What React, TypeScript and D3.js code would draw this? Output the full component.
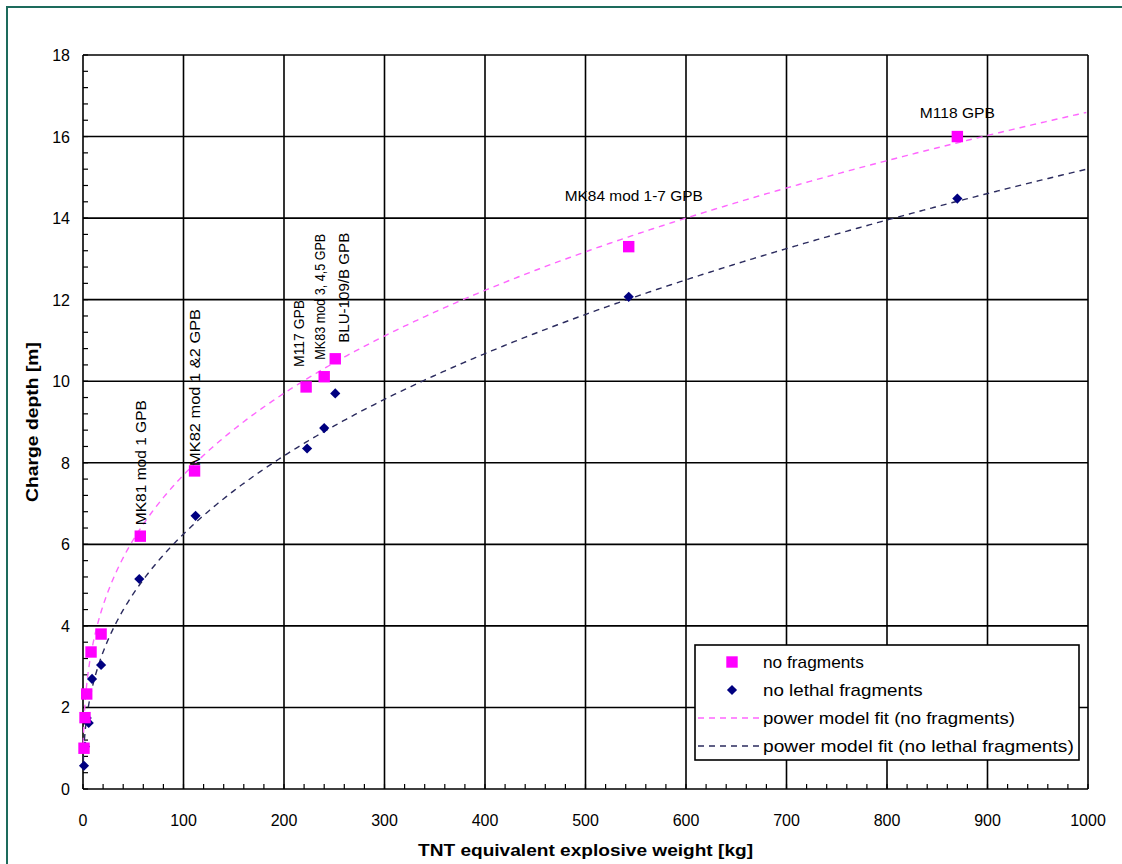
import * as d3 from 'd3';
import React, { useRef, useEffect } from 'react';

// charge weight [kg] and charge depth [m]
const noFragWeight = [1, 2, 3.7, 8, 18, 57, 111, 222, 240, 251, 543, 870];
const noFragDepth = [1.0, 1.75, 2.33, 3.36, 3.8, 6.2, 7.8, 9.86, 10.11, 10.55, 13.3, 16.0];
const noLethalWeight = [1, 2, 3.7, 5.7, 9, 18, 56, 112, 223, 240, 251, 543, 870];
const noLethalDepth = [0.57, 1.04, 1.74, 1.62, 2.7, 3.04, 5.15, 6.7, 8.35, 8.85, 9.7, 12.07, 14.48];

// power model fits  depth = a * weight^b
const fitNoFrag = { a: 1.657, b: 0.3336 };
const fitNoLethal = { a: 1.057, b: 0.386 };

const bombNames = ['MK81 mod 1 GPB', 'MK82 mod 1 &2 GPB', 'M117 GPB', 'MK83 mod 3, 4,5 GPB', 'BLU-109/B GPB', 'MK84 mod 1-7 GPB', 'M118 GPB'];
const bombPoint = [5, 6, 7, 8, 9, 10, 11]; // index in the no fragments series

const xTicks = [0, 100, 200, 300, 400, 500, 600, 700, 800, 900, 1000];
const yTicks = [0, 2, 4, 6, 8, 10, 12, 14, 16, 18];
const legendLabels = ['no fragments', 'no lethal fragments', 'power model fit (no fragments)', 'power model fit (no lethal fragments)'];

const W = 1122, H = 864;
const left = 83, right = 1088, top = 55, bottom = 789;
const PINK = '#ff00ff', NAVY = '#000080';
const FONT = '"Liberation Sans", Arial, sans-serif';

// label placement relative to its data point: [dx, dy, rotated, length, font size]
const labelPos: [number, number, boolean, number, number][] = [
  [6, -11, true, 125, 15], [5, -5, true, 157, 15], [-2, -20, true, 67, 14], [1, -17, true, 126, 14],
  [14, -16, true, 110, 14], [5, -46, false, 138, 15], [0, -19, false, 75, 15],
];

export default function App() {
  const ref = useRef<SVGSVGElement>(null);

  useEffect(() => {
    const svg = d3.select(ref.current);
    svg.selectAll('*').remove();

    const x = d3.scaleLinear().domain([0, 1000]).range([left, right]);
    const y = d3.scaleLinear().domain([0, 18]).range([bottom, top]);

    svg.append('rect').attr('width', W).attr('height', H).attr('fill', '#fff');
    // teal frame
    svg.append('path').attr('d', `M7,${H} V7 H${W}`).attr('fill', 'none')
      .attr('stroke', '#1d6b5c').attr('stroke-width', 2);

    // grid
    const grid = svg.append('g').attr('stroke', '#000').attr('stroke-width', 1.6);
    xTicks.forEach(t => grid.append('line').attr('x1', x(t)).attr('x2', x(t)).attr('y1', top).attr('y2', bottom));
    yTicks.forEach(t => grid.append('line').attr('x1', left).attr('x2', right).attr('y1', y(t)).attr('y2', y(t)));

    // minor ticks
    const minor = svg.append('g').attr('stroke', '#000').attr('stroke-width', 1.2);
    d3.range(0, 1001, 20).forEach(t => minor.append('line').attr('x1', x(t)).attr('x2', x(t)).attr('y1', bottom).attr('y2', bottom - 5));
    d3.range(0, 18.01, 0.4).forEach(t => minor.append('line').attr('x1', left).attr('x2', left + 5).attr('y1', y(t)).attr('y2', y(t)));

    // tick labels
    const tl = svg.append('g').attr('font-family', FONT).attr('font-size', 16).attr('fill', '#000');
    xTicks.forEach(t => tl.append('text').attr('x', x(t)).attr('y', 826).attr('text-anchor', 'middle').text(t));
    yTicks.forEach(t => tl.append('text').attr('x', 70).attr('y', y(t) + 6).attr('text-anchor', 'end').text(t));

    // axis titles
    svg.append('text').attr('x', (left + right) / 2).attr('y', 856).attr('text-anchor', 'middle')
      .attr('font-family', FONT).attr('font-weight', 'bold').attr('font-size', 16)
      .attr('textLength', 335).attr('lengthAdjust', 'spacingAndGlyphs')
      .text('TNT equivalent explosive weight [kg]');
    svg.append('text').attr('transform', 'translate(38,422) rotate(-90)').attr('text-anchor', 'middle')
      .attr('font-family', FONT).attr('font-weight', 'bold').attr('font-size', 16)
      .attr('textLength', 160).attr('lengthAdjust', 'spacingAndGlyphs')
      .text('Charge depth [m]');

    // fit curves
    const ws = d3.range(0.3, 1000.01, 2).concat(d3.range(0.3, 10, 0.1)).sort((a, b) => a - b);
    const line = d3.line<number[]>().x(d => x(d[0])).y(d => y(d[1]));
    const drawFit = (fit: { a: number; b: number }, color: string) =>
      svg.append('path').datum(ws.map(w => [w, fit.a * Math.pow(w, fit.b)]))
        .attr('d', line).attr('fill', 'none').attr('stroke', color)
        .attr('stroke-width', 1.4).attr('stroke-dasharray', '6,5');
    drawFit(fitNoFrag, '#ff66ff');
    drawFit(fitNoLethal, '#2b2b5e');

    // points
    const sq = d3.symbol().type(d3.symbolSquare).size(130);
    const dm = d3.symbol().type(d3.symbolDiamond2).size(66);
    noLethalWeight.forEach((w, i) => svg.append('path').attr('d', dm())
      .attr('transform', `translate(${x(w)},${y(noLethalDepth[i])})`).attr('fill', NAVY));
    noFragWeight.forEach((w, i) => svg.append('path').attr('d', sq())
      .attr('transform', `translate(${x(w)},${y(noFragDepth[i])})`).attr('fill', PINK));

    // bomb labels
    bombNames.forEach((name, i) => {
      const k = bombPoint[i];
      const [dx, dy, rot, len, fs] = labelPos[i];
      const px = x(noFragWeight[k]) + dx, py = y(noFragDepth[k]) + dy;
      svg.append('text').attr('font-family', FONT).attr('font-size', fs).attr('fill', '#000')
        .attr('text-anchor', rot ? 'start' : 'middle')
        .attr('textLength', len).attr('lengthAdjust', 'spacingAndGlyphs')
        .attr('transform', rot ? `translate(${px},${py}) rotate(-90)` : `translate(${px},${py})`)
        .text(name);
    });

    // legend
    const lg = svg.append('g');
    lg.append('rect').attr('x', 695).attr('y', 645).attr('width', 384).attr('height', 115)
      .attr('fill', '#fff').attr('stroke', '#000').attr('stroke-width', 1.6);
    legendLabels.forEach((lab, i) => {
      const cy = 662 + i * 28;
      if (i === 0) lg.append('path').attr('d', sq()).attr('transform', `translate(732,${cy})`).attr('fill', PINK);
      if (i === 1) lg.append('path').attr('d', dm()).attr('transform', `translate(732,${cy})`).attr('fill', NAVY);
      if (i >= 2) lg.append('line').attr('x1', 698).attr('x2', 760).attr('y1', cy).attr('y2', cy)
        .attr('stroke', i === 2 ? '#ff66ff' : '#2b2b5e').attr('stroke-width', 1.4).attr('stroke-dasharray', '6,5');
      lg.append('text').attr('x', 763).attr('y', cy + 6).attr('font-family', FONT).attr('font-size', 17)
        .attr('textLength', lab.length * 8.4).attr('lengthAdjust', 'spacingAndGlyphs').text(lab);
    });
  }, []);

  return (
    <svg ref={ref} width={W} height={H} style={{ position: 'absolute', left: 0, top: 0, display: 'block' }} />
  );
}
